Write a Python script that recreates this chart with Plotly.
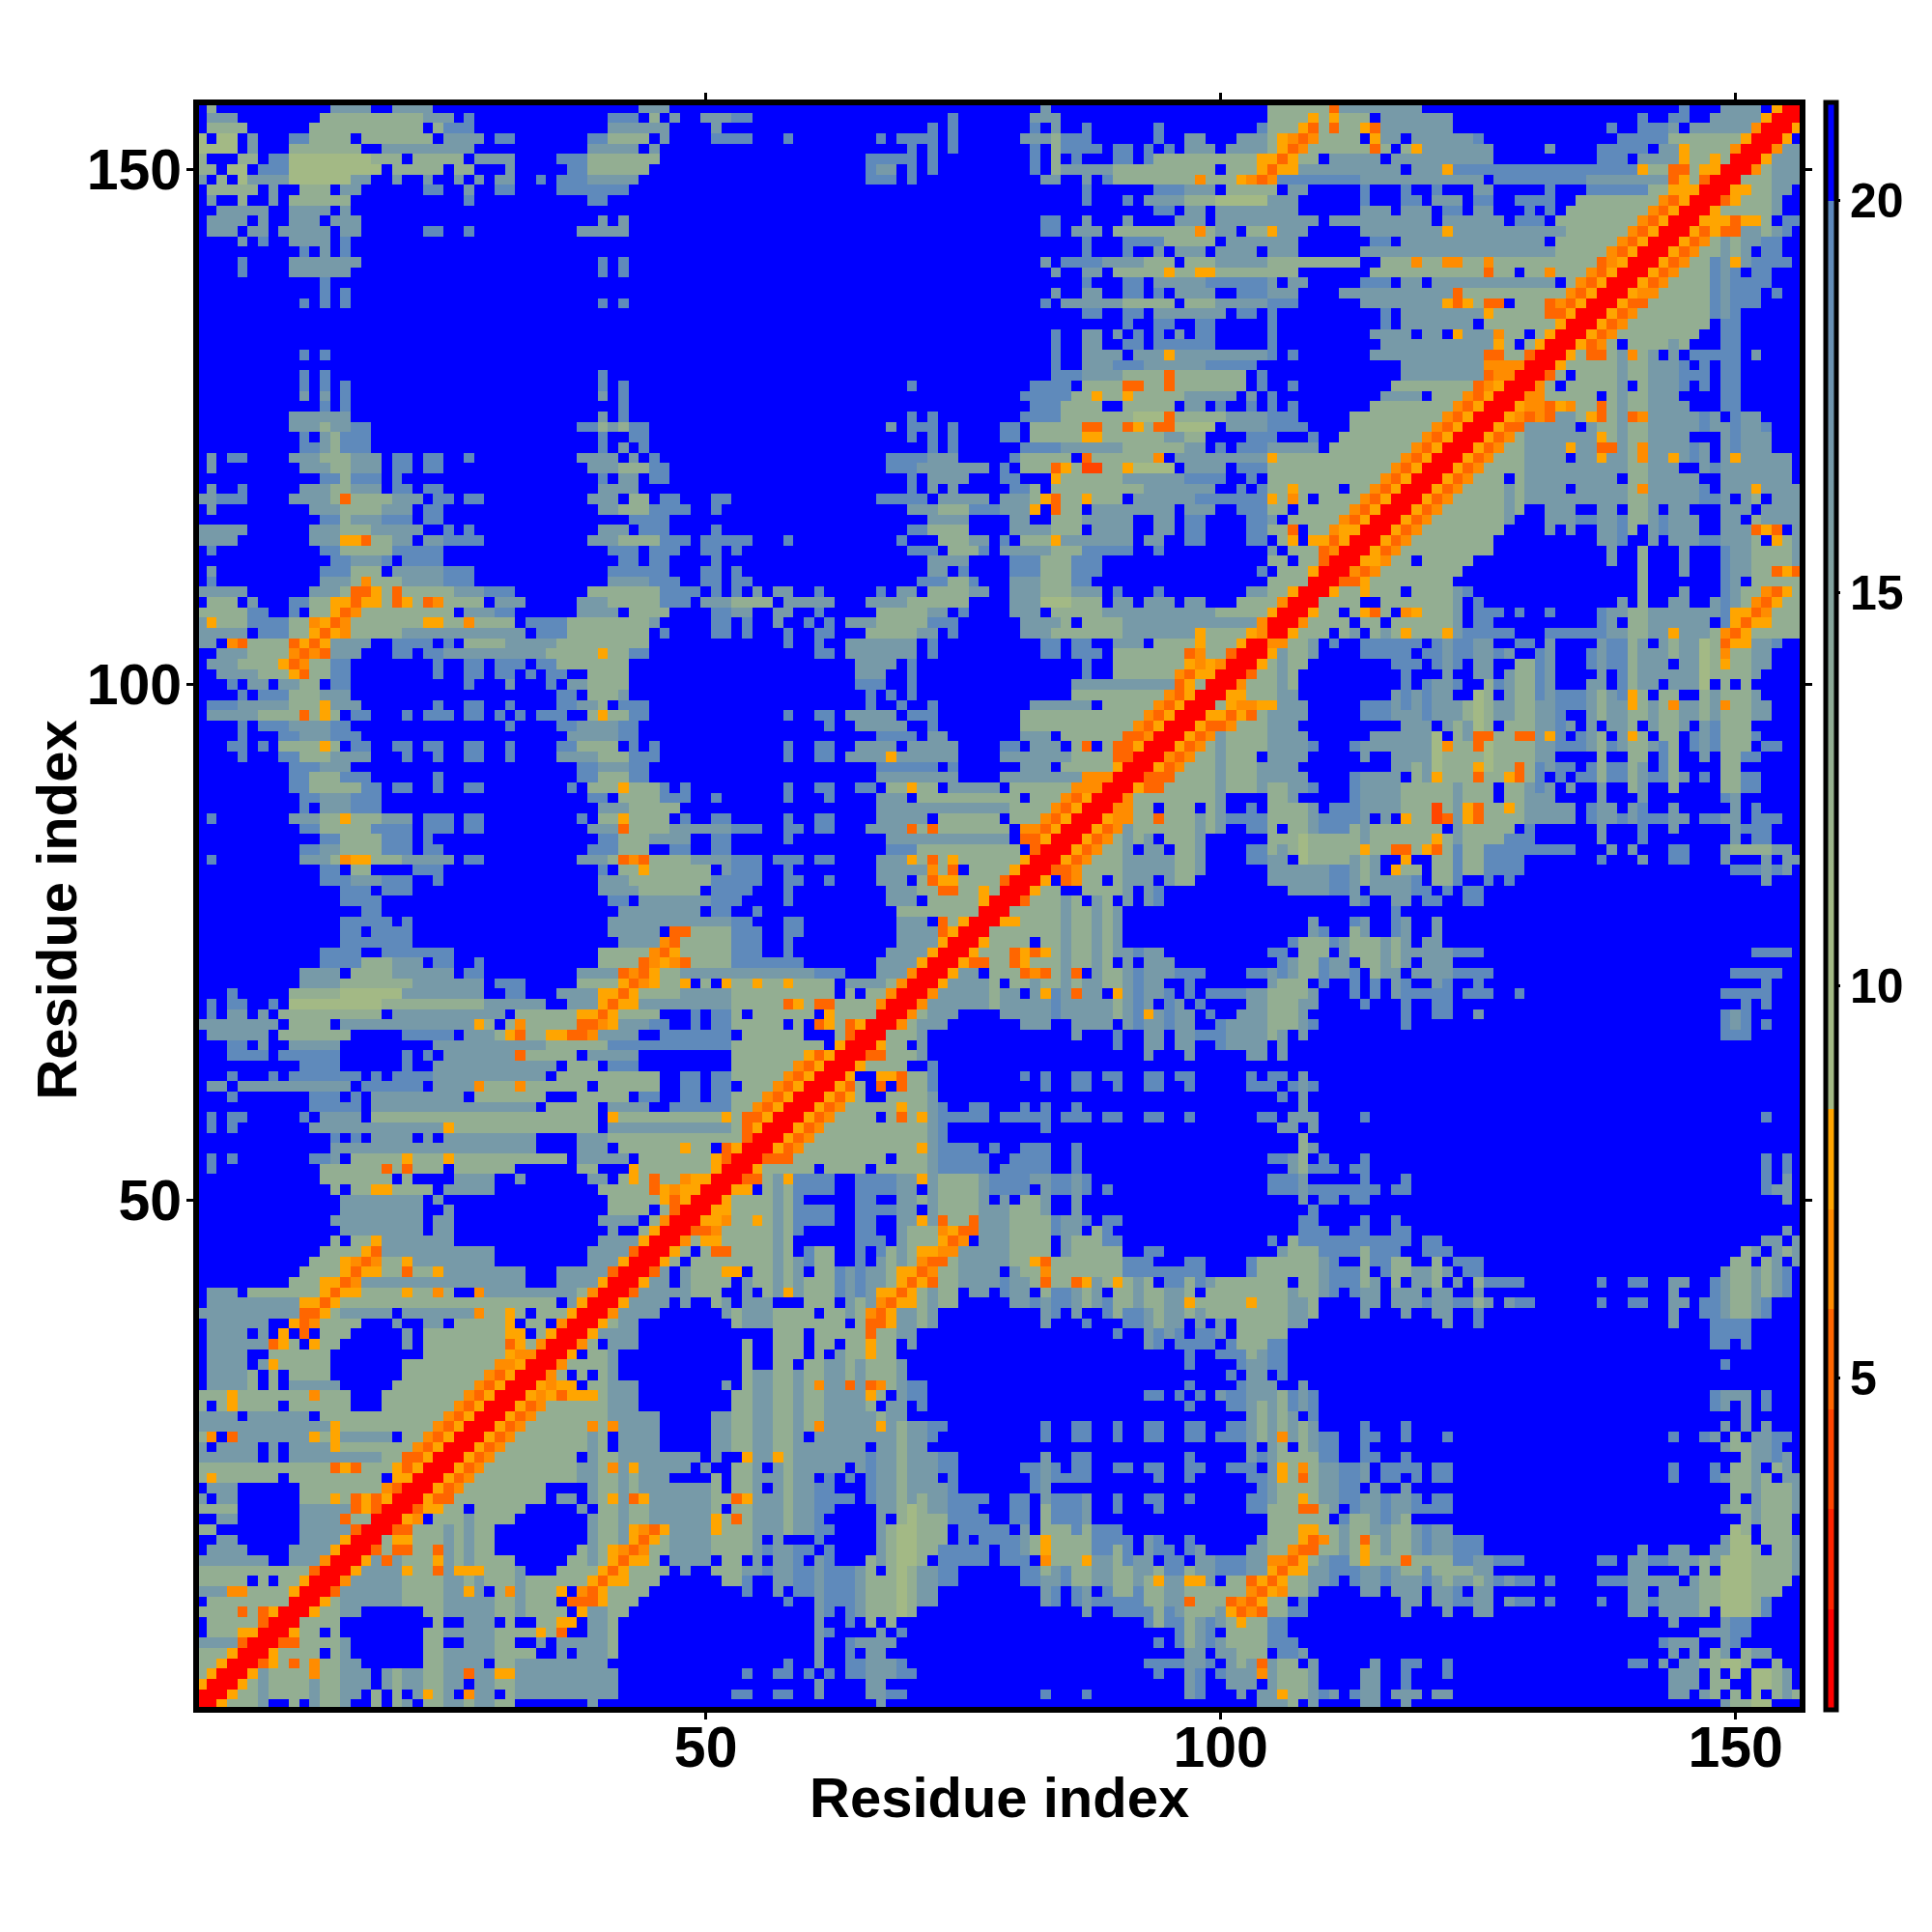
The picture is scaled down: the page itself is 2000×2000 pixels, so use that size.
import re
import numpy as np
import plotly.graph_objects as go

N_RESIDUES = 156
TICKS = [50, 100, 150]
CB_TICKS = [5, 10, 15, 20]

# Token "a-bL" = residues a..b on the row have level L. Anything not named is beyond the 20 A cutoff.
LEVELS = {"r": 1.5, "l": 4.0, "m": 5.4, "n": 6.6, "o": 7.8, "d": 10.5, "c": 13.0, "b": 16.5, "a": 19.5}
FAR = 21.0

# rows 156 down to 105, columns 1-52
block_hi_left = [
"2c 14-17b 20-23b 44-46b",
"2-4b 13-22c 23-25b 27a 41-43a 45c 47b 50-52b",
"2-5c 12-22c 24c 25-27a 41-46b 51b",
"1d 3-4d 6b 10-11a 12-15c 17-23c 25-28b 30-31a 39-40a 41-44c 46b 51-52a",
"1-4d 6b 10-16c 19-27b 39-43b 45b",
"1c 5-6c 8-9a 10-17d 18-20c 22-26c 28-31b 36-38a 39-45c",
"1-2c 4-5d 7-9a 10-18d 20-24c 26-27c 31b 37-38a 39-44c",
"1b 3c 5d 6-9b 10-15d 16-17b 20b 23b 26b 28b 30-31b 34a 36-38a 39-43b",
"2-5c 6c 8b 11-13c 15-16b 23-24a 27b 30-31a 36-42a",
"2b 5c 8b 10-15c 27a 39-40a",
"3-7b 10-13b 15b",
"2-5b 7b 10-12b 14-16b 40b 42b",
"2-4b 6-7b 9-13b 15-16b 23-24a 27a 38-42b",
"5b 7a 10-13b 15a",
"11a 13b 15a",
"5a 10-16b 40a 42a",
"5a 10-15b 40a 42a",
"13a",
"13a 15a",
"11a 13a 15a 40a 42a",
"", "", "", "",
"11a 13a",
"",
"11a 13a 40a",
"11a 13a 15a 40a 42a",
"11b 13b 15a 40b 42a",
"13a 15a 42a",
"10-15b 40b 42a",
"10-12b 13c 14-15b 16-17a 38-39a 40c 41b 42c 43-44a",
"11a 13b 14c 15-17a 40a 43-44a",
"11-12a 13b 14c 15-17a 40a 42b 44a",
"2b 4-5a 10-12b 13c 14-15c 16-18b 20-21a 23-24a 27a 38-41b 43b 45a",
"2b 11-13b 14-15c 16-18b 20-21a 23-24a 39-41b 42c 43-44c 45-46a",
"13-14a 15c 16-18a 20a 40a 42-43b 45-46a",
"2b 5a 11-13b 14-15c 16-18b 20-21a 23-24a 40-43b",
"1-2b 3-5a 10-13b 14c 15m 16-19c 20-22b 24-25a 27-28a 39-41b 43-44c 46-47a 51-52a",
"2b 12-14b 15c 16-18c 19-21b 23-24a 40-41b 42-44c 45-48a 51a",
"13-14a 15c 16-18b 19-21a 23-24a 43-46a",
"1-5b 12-14b 15-17c 18-22b 25a 27a 40-42b 44-46a 51a",
"1-4b 12-14b 15-16o 17m 18-19c 20-21b 23-24b 25-28a 39-41b 42-45c 46-48a 50-52a",
"2a 13-14a 15-19c 20-24a 41-43a 45-47a 50-51a",
"14-15a 16-18b 19a 21-24a 42-43a 45-46a 51a",
"2b 13-15a 16-18c 20-22b 23-24b 25-27a 41-46a 50-51a",
"2a 13-15b 16c 17n 18-20c 21-24b 25-27a 41-44b 45-47a 50-51a",
"1-5b 12-14b 15c 16-17m 18o 19c 20m 21c 22-25c 26-28b 29-31a 39-45c 46-49a 51a",
"2-4c 6b 10-11a 12-13c 14-15o 16m 17-18o 19c 20m 21o 22c 23m 24n 25-28c 30-32b 38-40b 41-45c 46-48a 50-52b",
"1-5c 6-7a 10a 12-13c 14o 15m 16n 17-25c 27-29b 30-31a 38-41b 43-46c 51-52a",
"1b 2o 3-5c 6-9a 10-11c 12n 13o 14m 15n 16-22c 23-24o 25-26c 27n 28-31c 33-36a 37-44c 45b 51-52a",
"1-2b 3-5b 7-9a 10-11c 12o 13m 14o 15n 16-20c 21-25b 26-32b 34-36a 37-44c 46a 51-52a",
]

# rows 156 down to 105, columns 53-104
block_hi_mid = [
"83b",
"53-54a 74a 82-84b",
"72a 74a 82a 84b 87a 94a 104a",
"53-54a 58a 67a 69-72a 74a 81-83b 84c 85-87a 94a 97-98b 102-104b",
"70a 72a 74a 82a 84c 85-88a 90-91a 93a 95a 97-99b 101-104b",
"66-70a 72a 82a 84c 86a 90-91a 93a 94-99c 100-103c 104o",
"66a 67-68b 70a 72a 82a 84c 85-89b 90-92c 93-99c 101-103c 104o",
"66-68a 70a 83-84b 87b 89a 90-97c 98n 99-101c 102o 103n 104m",
"87a 94-96a 97-99b 101-104c",
"87a 91a 93-96b 97-99c 100-104d",
"94-95a 97-98b 100-104b",
"83-84a 87b 91b 96-98b 100-104b",
"83-84a 86-88b 90-97c 98n 99c 100-101b 103-104c",
"87a 91-94a 95-99c 101-104b",
"87a 91a 94b 96-98b 100-103b",
"83b 85-88a 89-92b 93-95c 97-99c 100-104b",
"84b 87-88b 90-94c 95o 96-97c 98-99o 100-104c",
"87a 91-92a 94-98b 99-104a",
"84b 87-88b 91-92a 94a 96-99b 102-104a",
"83a 85-90b 91-93c 94-95c 97-99c 100-104b",
"87-88a 91-92a 94-100b 102-103a",
"91a 94-95a 98-99a",
"84a 87-88b 90b 92a 94a 96b 98-99a",
"84a 87-88b 91-92a 94-99a",
"84a 87-90b 92-94b 95o 96-104b",
"84a 87-89b 90-92a 93-98b 99-103a",
"84-86a 87-90b 91-94c 95m 96-102c 104a",
"70a 82-85a 87-90c 91-92m 93-94c 95m 96-102c 104a",
"81-85a 86-87c 88o 89-90c 91o 92-96c 97-101b 103b",
"82-84a 85-88c 91-95c 97-98b 100a 103a",
"70a 72a 81-84a 85-91c 92-94d 95m 96-100c 101-104b",
"68b 70-72a 74a 79-80a 82-86c 87-88m 89-90c 91m 92o 93c 94-95m 96-99d 101-104b",
"70a 72a 74a 79-80a 82-86c 87-88o 89-94c 95-96b 97-98c 103-104a",
"72a 74a 81-84a 85-90b 91-96c 97-98b 100a 102-104a",
"68-71a 72-74b 80a 81-85c 87m 88-93c 94n 96-104b",
"68-70a 71-77b 79a 81-83c 84m 85o 86c 87-88l 89-90c 91o 92-95d 97-100b 102-104a",
"70a 72-75b 79-80a 84o 85-90c 91-96b 97-100a 103a",
"70a 72b 74b 80-81a 82c 84c 85-92c 93-99b 102a 104a",
"67-71a 73-77b 79-81b 82c 83o 84m 85-86c 87o 88-90c 92-97b 98-104a",
"70-72b 73-75c 76-78a 79-81b 82o 84m 85-86c 88-95b 97-99b 102-104a",
"72-75b 80-81b 84c 85-86c 87b 88-91b 94-95b 97-98a 103-104a",
"70-71a 72-75c 80-83b 84-86c 88-91b 94-95b 97-98a 103-104a",
"53-54a 58a 69a 73-75c 76-77b 79a 81-83c 84o 85-91b 93-94b 97-98a 103-104a",
"53a 70-72a 74-76c 77a 79-83b 84-86c 87-91a 94a",
"72-75b 80-82a 83-85c 86-88a",
"53a 72-73b 75a 80-82a 83-85c 86-88a 104a",
"53-54a 71-73a 74-75c 76a 80-82b 83-85c 86-87a",
"53a 55b 57-58b 61a 67a 69-70b 72-75c 76-77b 80-82b 83-85c 86-88b 90a 94a 103-104b",
"53-56c 58-62b 66-69b 70-72c 73-75c 80-82b 83-85d 86-88c 90-91b 93-95b 97-98b 102-104c",
"53-54b 57-58b 61a 67-71c 72-73b 75a 80-82b 84-88c 89-92b 93-99b 100-104c",
"54a 57b 60a 62a 64-66b 67-71c 72-74a 81-84b 85c 87-90c 91-95b 96-99b 100-103b 104n",
"54a 58a 61-62a 66-70c 71-72b 74a 81-83b 84-90c 91-97b 98o 99-102c 103o 104n",
]

# rows 156 down to 105, columns 105-156
block_hi_right = [
"105-110c 111m 112-119b 145a 149-152b 154o 155-156r",
"105-108c 109o 110c 111o 112-114c 116-122b 141a 144-145a 148-152b 153o 154-156r",
"105-107c 108o 109m 110c 111m 112-113c 114o 115m 116-122b 138a 141-143a 144b 146-151b 152n 153-155r",
"105c 106o 107n 108m 109n 110-113c 115o 116-117b 119-124b 125a 139-143a 144-150c 151o 152-154r",
"105c 106o 107m 108n 109-114c 115m 116c 118c 119o 120-126b 132b 137-141a 143-144b 145o 146-149c 150n 151-153r",
"105o 106m 107o 108-109c 111-115b 117-126b 137-139a 141-144b 145o 146-147c 148o 149c 150-151r",
"105m 106-107o 108-117b 119-121b 122o 123-140a 141o 142-143c 144m 145m 146c 147-148o 149-150r",
"105n 106-113a 114-125b 127-131a 132-135a 136-143b 144m 145o 146c 147m 148-149r",
"105c 107-108b 114a 118a 121a 125-126b 132a 136-141a 142-143c 144-146o 147-148r",
"105-107b 114a 118-119a 121-123b 125-126a 129-132a 135-142c 143n 144m 145o 146-147r",
"105-107b 114-116b 118-120b 122-123a 125-126b 130a 132a 134-141c 142n 143m 144o 145-146r",
"105-109b 111-120b 122-127b 129-131a 133-140c 141n 142m 143o 144-145r",
"105o 106-108b 114-121b 122o 123-133b 134-139c 140n 141m 142o 143-144r",
"105-107b 115-116a 118-131b 133-138c 139n 140m 141o 142-143r",
"105-107b 114-132b 133-137c 138n 139m 140o 141-142r",
"105-113c 116-118c 119n 120-121c 122-123n 124-125c 126n 127-136c 137m 138n 139o 140-141r",
"105-107c 115-125c 126m 127-128c 130-131c 132n 133-135c 136n 137m 138o 139-140r",
"105b 107-108b 114-116a 118-119b 121-132b 134c 135n 136m 137o 138-139r",
"105-107b 112-122b 123m 124-133c 134n 135m 136o 137-138r",
"105-107a 114-121b 122o 123m 124o 125c 126-127m 129-131c 132m 133n 134m 135o 136-137r",
"105a 116a 118-125b 126o 127-131c 132-133m 134o 135-136r",
"105a 116a 118-124b 126-132c 133o 134-135r",
"105a 115-118b 120-121b 123o 124-126b 127n 128-129c 131c 132o 133-134r",
"105a 116-126b 127o 128c 130c 131o 132-133r",
"105a 107a 115-125b 126-127m 128-129c 130m 131-132r",
"118-125b 126-129n 130-131r",
"118-125b 126m 127-128n 129-130r",
"107a 117-124c 125m 126n 127o 128-129r",
"105a 116-119b 121-123c 124n 125m 126o 127-128r",
"105a 107a 115-122c 123n 124m 125o 126-127r",
"105-107a 113-121c 122n 123m 124o 125-126r",
"105-108a 113-120c 121n 122m 123o 124-125r",
"105a 109a 112-119c 120n 121m 122o 123-124r",
"105-109b 111-118c 119n 120m 121o 122-123r",
"105o 106-117c 118n 119m 120o 121-122r",
"105-116c 117n 118m 119o 120-121r",
"105-115c 116n 117m 118o 119-120r",
"105-106c 107o 108-111c 113-114c 115n 116m 117o 118-119r",
"105o 106c 107n 108c 110-113c 114n 115m 116o 117-118r",
"105-106c 108-112c 113n 114m 115o 116-117r",
"105b 107-111c 112n 113m 114o 115-116r",
"105-106c 107m 109-110c 111n 112-113o 114-115r",
"106c 107o 109-110o 111m 112o 113-114r",
"105b 107-109c 110m 111n 112-113r",
"105-106c 108-109c 110m 111-112r",
"106-108c 109o 110-111r",
"105-108c 109-110r",
"105-106c 107o 108-109r",
"105c 106n 107-108r",
"105o 106-107r",
"105-106r",
"105r",
]

# rows 104 down to 53, columns 1-52
block_mid_left = [
"1-2b 4n 5m 6-9c 10m 11o 12m 13o 14-17b 20-23a 25a 27-30c 31-35b 36-44c",
"3-5b 6-9c 10n 11m 12n 13m 14-16b 20-21a 23-24a 25-28b 29-34b 35-39c 40o 41-42c 43-44a",
"2-4b 5-8c 9o 10m 11n 12-13c 14-15a 24a 27-28a 30-32a 34-35a 36-42c",
"3-6b 7-9c 10o 11m 12-13c 14-15a 24a 27-28a 30-31a 33a 35-36a 39-42c",
"4a 6-7b 9-10b 11-12c 14-15a 27a 31b 35a 37-38b 39-42c",
"5a 7-9a 10-12c 13-15b 36-37a 39-41c 42b",
"2-4a 5-9b 10-12c 13o 14-16b 24a 27-28a 31a 36-37a 38-39b 40c 42-44a",
"2-6b 7-10c 11m 12c 13o 14c 16-17a 21a 23-25a 27-28a 30a 32a 34-36a 39c 40o 41-42c 43-44a",
"5a 7-9a 10-13b 14-15a 31a 36-37a 38-41b 42-43a",
"5a 9-10a 11-13b 14-16a 37-41b 42-43a",
"4-5a 7a 9-12c 13o 14c 16-17a 20-21a 23-24a 27-28a 31a 36-37a 38-41c 43a 45a",
"5a 9-10a 11-13c 14-17b 21a 24a 27-28a 31a 36-39b 40-42c 43-45a",
"10-12a 13-15b 38-39a 40-42b 43-44a",
"10-11a 12-14c 15-17a 24a 38-39a 40-42c 43-44a",
"10-11a 12-14c 15-16c 17-18a 20-21a 24a 27-28a 37a 39-41c 42o 43-45c 46a 48a",
"11-12a 13-15b 16-18a 39-40a 42-45c 46-48a 51a",
"11a 13-15b 16-18a 40-42b 43-47c",
"2a 10-12b 13-14c 15o 16-18c 19-21b 23-25a 27-28a 38a 40-41c 42o 43-46c 48a 51-52a",
"11-12a 13-17c 18-21a 23-25a 27-28a 39-41b 42m 43-46c 47-52b",
"13-14a 15-18c 19-21a 23a 40-41a 42-44c 45-48b 51-52a",
"11-12a 13-14b 15-18c 19-21a 23-24a 39-41a 42-44c 47-48a 51-52a",
"2a 11-13b 14c 15n 16-17o 18-20c 21-25b 27-28a 38-40b 41c 42m 43n 44m 45-48c 49-52b",
"13-14a 16-17c 22-24a 40a 42-43c 44o 45-50c 52b",
"13-15a 16-18b 19-21a 24a 40-42b 43-50c 51-52a",
"15-17a 19-21a 40-43b 44-49c 51-52a",
"15-18a 41-42a 44-50b 51-52a",
"17-18a 42-49b 51-52a",
"15-19a 21a 41-52b",
"15-16a 18-21a 41-45b 47-48m 49-52c",
"15-21a 42-45b 46n 47m 48-52c",
"13-16a 19-25a 40-44c 45n 46m 47o 48-52c",
"13-16a 17-19c 20-22b 24-25a 28a 40-43c 44m 45n 46o 47n 48m 49-52c",
"11-14b 16-19c 20-25b 27-28a 38-41b 42m 43n 44m 45o 46-47c 48-52b",
"11-14b 15-21c 22-28b 30-32a 38-41c 42o 43m 44n 45o 46-47c 48o 50c 52o",
"4a 10-14c 15-20d 21-28b 31-32a 36-39b 40-41o 42m 43o 44-47c 48-52b",
"2a 4-5a 8a 10-18d 19-28c 29-34b 37-39b 40o 41m 42-43o 44-52b",
"2a 4-5b 7b 9-18c 20-30b 32-37c 38-39o 40m 41o 42-45c 49a 51-52a",
"1-8b 10-13c 15-27b 28o 29c 31c 32n 33-37c 38-39m 40n 41o 42-44b 45-46a 49a 51-52a",
"2-7b 9-15c 21-25a 27-29b 30c 31o 32m 33-34c 35-36o 37-38m 39n 40-43b 46-52a",
"4-5a 7b 10-14b 24-34b 35-40c 41-52a",
"4-7a 9-14a 21a 23a 25-31b 32m 33-37c 39-43b",
"11-14a 21a 24-35b 37-39c 41-43a",
"4a 8a 10-16a 18a 20-23a 24-34b 36-45c 48-49a 51-52a",
"2-3b 5-15b 17-22a 24-27b 28n 29-31c 32n 33-38c 40-45c 48-49a 51-52a",
"4a 12-14a 16a 18-26b 28-34c 38-42c 44-45a 48-49a 51-52a",
"12-16a 18-33b 35-39c 41-44b 47-52a",
"2a 4-5a 11a 13-16b 18-39c 41o 42-51c 52o",
"2a 4a 12-24b 25o 26-39c 41-52b",
"14a 16a 18-21b 23b 25-33b 38-40b 41-52c",
"14-33b 38-40b 42-47c 48o 49-50c 52m",
"2a 4a 12-13a 14b 16-20c 21o 22-24c 25o 26-36c 38-42b 44-50c 51o 52m",
"2a 13-18c 19m 20c 21m 22-24c 26-31c 38-39c 43o 44-50c 51o 52r",
]

# rows 104 down to 53, columns 53-104
block_mid_mid = [
"58a 61a 64-70b 72a 83-84a 86-87a 90-92b 94-97c 98o 99-101c 102o 103-104r",
"61-62a 64-70b 72a 83-84a 86-88a 90-96c 97m 98n 99-100c 101m 102-103r",
"65-68b 70a 87a 90-96c 97o 98n 99o 100n 101-102r",
"65-67b 70a 87a 90-95c 96n 97m 98-99o 100-101r",
"65-67a 70a 86-95b 96m 97o 98c 99-100r",
"66a 68a 70a 86-94c 95n 96m 97o 98-99r",
"66a 69a 72a 82-87b 89-93c 94n 95m 96o 97-98r",
"58a 61-62a 64-68b 70-72a 81-92c 93n 94m 95o 96-97r",
"62a 65-69b 72a 81-91c 92n 93m 94o 95-96r",
"67-70a 72-73b 81-83b 85-90c 91-92m 93n 94-95r",
"58a 61-62a 65-68b 70-74b 79-80a 82-84b 86c 87m 89c 90-91m 92o 93-94r",
"58a 61-62a 64-67b 68o 69-74b 79-85b 86-89c 90-91m 92-93r",
"67-72a 74a 81-83b 85-89c 90o 91-92r",
"67-74b 79-86b 87-89n 90-91r",
"58a 61-62a 65-66a 68-69c 70o 71-72c 74-78b 80-85c 86-88n 89-90r",
"58a 62a 67-69b 71-80c 82-84c 85n 86m 87o 88-89r",
"67-79b 80-83c 84n 85m 86o 87-88r",
"58a 61-62a 67-71b 73-78c 80-82c 83n 84m 85o 86-87r",
"53-55a 58-59a 61-62a 66-69b 70m 71c 72m 73-79c 81-82n 83m 84o 85-86r",
"58a 68-79b 81-82m 83o 84-85r",
"68-70a 71-80c 82m 83-84r",
"53-55a 57-59a 61-62a 67-69b 70o 71c 72m 73c 74o 75-80c 81o 82-83r",
"53-55a 58a 67-71b 72n 73c 74m 76-79c 80o 81-82r",
"53-55a 58-59a 62a 67-69b 71c 72m 73-74o 75-78c 79m 80-81r",
"53-54a 58a 68-70b 71-72c 73-74m 75-76c 77o 78c 79-80r",
"53a 58a 68-70b 72-76c 77o 78-79r",
"55a 69-76c 77-78r",
"53-54a 58-59a 69-71b 73m 74c 75o 76-77r",
"53-55a 58-59a 69-72b 73m 74o 75-76r",
"53-55a 58a 69-72b 73o 74-75r",
"53-55a 58a 68-71b 72o 73-74r",
"53-59a 67-70b 71o 72-73r",
"53-60b 61-63a 67-69b 70n 71-72r",
"53-54c 55o 56-57c 58o 59-62c 64-67b 68c 69n 70-71r",
"53-62c 64c 66-67c 68n 69-70r",
"53-57c 58m 59o 60c 61-62m 63-66c 67n 68-69r",
"53c 55-60c 62o 63-66c 67-68r",
"53-57c 59c 61m 62o 63c 64m 65o 66-67r",
"54-59c 63c 64m 65-66r",
"53-61c 63o 64-65r",
"53-59c 60o 61m 62o 63-64r",
"53-58c 59n 60m 61o 62-63r",
"53-57c 58n 59m 60o 61-62r",
"54-56c 57n 58m 59o 60-61r",
"53-55c 56n 57m 58o 59-60r",
"53-54c 55n 56m 57o 58-59r",
"53c 54-55m 56o 57-58r",
"53c 54m 55o 56-57r",
"53c 54m 55-56r",
"53o 54-55r",
"53-54r",
"53r",
]

# rows 52 down to 1, columns 1-52
block_low = [
"13-19c 21c 26-29b 32b 39-40b 42c 43o 44c 45m 46-47c 48n 49-50o 51-52r",
"14c 16-17c 18-19o 20-23c 25-29b 40-44c 45m 46o 47n 48-49o 50-51r",
"15-22b 24b 41-45c 46o 47m 48o 49-50r",
"15-22b 25b 41-44c 46c 47m 48-49r",
"14-22b 24-25b 40-43b 45c 46n 47-48r",
"15-22b 24-25b 41b 44c 45o 46-47r",
"14c 16-17c 18o 19-25b 40-43b 44o 45-46r",
"13-16c 17o 18m 19-29b 39-42b 43m 44-45r",
"12-14c 15o 16n 17m 18n 19-20c 21o 22-29b 39-41b 42o 43-44r",
"11-14c 15o 16m 17-18o 19-20c 21m 22-23c 24o 25-32b 36-40b 41m 42-43r",
"10-12c 13-14o 15m 16n 17-32b 36-39b 40o 41-42r",
"2-4b 6-12c 13o 14m 15-16o 17-20c 21o 22-23c 24n 25c 28n 29-37b 38c 39n 40-41r",
"2-10b 11-12o 13m 14o 15-35c 37b 38o 39-40r",
"1-10b 11-12m 13o 14c 15-19b 21-27b 28n 29-30c 31o 32c 34-36c 37o 38-39r",
"2-7b 10o 11m 12n 13-16c 20b 23-24b 26-30c 31o 33-34c 36n 37-38r",
"2-5b 7b 9o 11m 13-15c 21b 23-30c 31-32o 34c 35o 36-37r",
"2-7b 8m 9o 10c 12o 13-14c 21b 23-30c 31m 32o 33c 34n 35-36r",
"2-5b 8-13c 23-30c 31o 32-33n 34-35r",
"2-5b 7b 8o 9-13c 21-29c 30-31n 32o 33-34r",
"2-5b 6c 8c 10-13c 21-28c 29n 30m 31o 32-33r",
"2-5b 6c 8c 10-14b 20-27c 28n 29m 30o 31-32r",
"1-3c 4o 5-11c 12n 13-15c 19-26c 27n 28m 29o 30-31r",
"1c 3c 4o 5-8c 10-15c 19-25c 26n 27m 28o 29-30r",
"1-4b 6-11b 13-24c 25n 26m 27o 28-29r",
"1-13b 14o 15-23c 24n 25m 26o 27-28r",
"1c 2n 4m 5-11b 12o 13c 14o 15-19b 21-22c 23n 24m 25o 26-27r",
"1b 3-6b 8b 10-13b 14o 15-21c 22n 23m 24o 25-26r",
"1-6b 8b 10-18b 19-20c 21-22m 23o 24-25r",
"1-13c 14m 15o 16m 17-19c 20o 21m 22o 23-24r",
"1c 2o 3-8c 10-18c 20-21o 22-23r",
"2-4b 11-18c 19n 20m 21-22r",
"1b 3-4b 11-13c 14o 15c 16m 17o 18m 19o 20-21r",
"1-4c 11-15b 16m 17o 18m 19-20r",
"3-4b 11-14b 15m 16-17c 18-19r",
"1-2c 11-15b 16m 17-18r",
"3-4b 11-14b 15o 16-17r",
"2-5b 10-13b 14o 15-16r",
"1-7b 10-12b 13n 14-15r",
"1-11c 12m 13-14r",
"1-5c 7c 9-10c 11o 12-13r",
"1-3b 4-5n 6-9c 10o 11-12r",
"2-9c 10-11r",
"1-4c 5m 6c 7m 8o 9-10r",
"2-6c 7m 8-9r",
"2-4c 5-6o 7-8r",
"1-4b 5m 6-7r",
"1-3c 4o 5-6r",
"1-2c 3o 4-5r",
"1c 2o 3-4r",
"1o 2-3r",
"1-2r",
"1r",
]

blocks = [(156, block_hi_left), (156, block_hi_mid), (156, block_hi_right),
          (104, block_mid_left), (104, block_mid_mid), (52, block_low)]

z = np.full((N_RESIDUES, N_RESIDUES), FAR)
token = re.compile(r"(\d+)(?:-(\d+))?([a-z])")
for top_row, block in blocks:
    for k, text in enumerate(block):
        row = top_row - k
        for first, last, level in token.findall(text):
            for col in range(int(first), int(last or first) + 1):
                if col <= row:
                    z[row - 1, col - 1] = LEVELS[level]
                    z[col - 1, row - 1] = LEVELS[level]

ZMIN, ZMAX = 0.77, 21.25
BAND_EDGES = [0.77, 2.05, 3.33, 4.6, 5.88, 7.15, 8.43]
BAND_COLORS = ["#ff0000", "#ff2400", "#ff4500", "#ff6600", "#ff8c00", "#ffa500"]
RAMP = [(8.43, "#a3b985"), (11.0, "#a3b985"), (20.0, "#5b87be")]
CUTOFF = 20.0

def norm(v):
    return (v - ZMIN) / (ZMAX - ZMIN)

colorscale = []
for i, c in enumerate(BAND_COLORS):
    colorscale += [[norm(BAND_EDGES[i]), c], [norm(BAND_EDGES[i + 1]), c]]
colorscale += [[norm(v), c] for v, c in RAMP]
colorscale += [[norm(CUTOFF), "#0000ff"], [1.0, "#0000ff"]]
colorscale[0][0] = 0.0

FONT = "Liberation Sans"
# the page adds an 8 px body margin around the figure
L, R, T, B = 194.5, 1858, 98, 1762

fig = go.Figure(go.Heatmap(
    x=list(range(1, N_RESIDUES + 1)), y=list(range(1, N_RESIDUES + 1)), z=z,
    zmin=ZMIN, zmax=ZMAX, colorscale=colorscale,
    colorbar=dict(
        thickness=11, thicknessmode="pixels", len=1, lenmode="fraction",
        x=(1882.5 - L) / (R - L), xanchor="left", xpad=0, y=0.5, yanchor="middle", ypad=0,
        outlinecolor="black", outlinewidth=5, borderwidth=0,
        tickmode="array", tickvals=CB_TICKS, ticktext=[str(t) for t in CB_TICKS],
        ticks="outside", ticklen=2, tickwidth=3, tickcolor="black",
        tickfont=dict(family=FONT, size=50, color="black", weight=700),
    ),
))

axis = dict(
    range=[0.5, N_RESIDUES + 0.5], tickmode="array", tickvals=TICKS,
    ticktext=[str(t) for t in TICKS], ticks="outside", ticklen=9, tickwidth=3,
    tickcolor="black", mirror="allticks", showgrid=False, zeroline=False, showline=False,
    tickfont=dict(family=FONT, size=59, color="black", weight=700),
)
fig.update_xaxes(**axis, ticklabelstandoff=-22)
fig.update_yaxes(**axis, ticklabelstandoff=-7)
fig.add_shape(type="rect", xref="paper", yref="paper", x0=0, x1=1, y0=0, y1=1,
              line=dict(color="black", width=6), layer="above")
title_font = dict(family=FONT, size=58, color="black")
fig.add_annotation(text="<b>Residue index</b>", xref="paper", yref="paper",
                   x=(1026 - L) / (R - L), y=(B - 1852) / (B - T), xanchor="center", yanchor="middle",
                   showarrow=False, font=title_font)
fig.add_annotation(text="<b>Residue index</b>", xref="paper", yref="paper",
                   x=(49 - L) / (R - L), y=(B - 934) / (B - T), xanchor="center", yanchor="middle",
                   textangle=-90, showarrow=False, font=title_font)
fig.update_layout(
    width=2000, height=2000, paper_bgcolor="white", plot_bgcolor="white",
    margin=dict(l=L, r=2000 - R, t=T, b=2000 - B, autoexpand=False),
)
fig.write_html("out.html")
